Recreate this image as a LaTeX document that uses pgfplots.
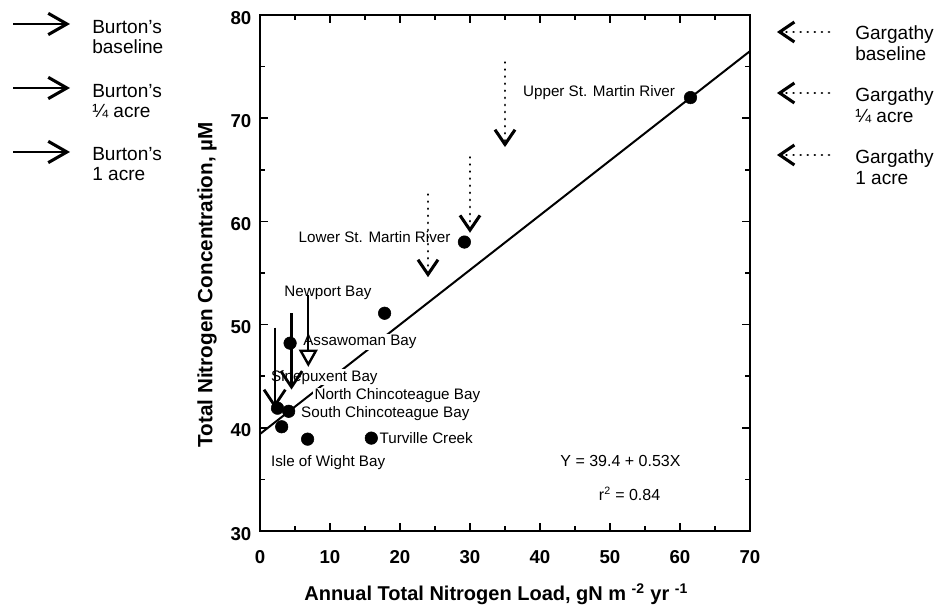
\documentclass[border=0pt]{standalone}
\usepackage{fontspec}
\setmainfont{Liberation Sans}
\usepackage{pgfplots}
\pgfplotsset{compat=1.18}
\usetikzlibrary{arrows.meta}

\tikzset{
  burton/.style={line width=1.7pt, black,
    -{Straight Barb[length=12pt, width=16pt, line width=2.1pt]}},
  gargathy/.style={line width=2.1pt, black, line cap=round,
    dash pattern=on 0.01pt off 5.3pt,
    -{Straight Barb[length=11pt, width=15pt, line width=2.3pt]}},
  lbl/.style={font=\fontsize{11.4}{13}\selectfont, inner sep=0.8pt, fill=white},
  leg/.style={font=\fontsize{14.3}{15.5}\selectfont, align=left, anchor=west, inner sep=0pt},
}

\begin{document}
\begin{tikzpicture}
\useasboundingbox (0,0) rectangle (705pt,-456.75pt);

\begin{axis}[
  at={(195pt,-398.25pt)}, anchor=south west,
  width=367.5pt, height=387pt, scale only axis,
  xmin=0, xmax=70, ymin=30, ymax=80,
  xtick={0,10,...,70}, ytick={30,40,...,80},
  minor x tick num=1, minor y tick num=1,
  tick align=inside,
  major tick length=6pt, minor tick length=3.5pt,
  every tick/.style={black, line width=1.1pt},
  axis line style={line width=1.5pt},
  /pgf/number format/assume math mode=true,
  tick label style={font=\fontsize{14}{16}\selectfont\bfseries},
  xticklabel style={yshift=-11pt},
  yticklabel style={xshift=-3pt, yshift=-2pt},
  xlabel={Annual Total Nitrogen Load, gN m \textsuperscript{-2} yr \textsuperscript{-1}},
  ylabel={Total Nitrogen Concentration, µM},
  xlabel style={font=\fontsize{15}{17}\selectfont\bfseries,
    at={(axis description cs:0.482,-0.122)}, anchor=center},
  ylabel style={font=\fontsize{15.5}{17}\selectfont\bfseries,
    at={(axis description cs:-0.108,0.477)}, anchor=center, rotate=0},
  clip=false,
]

% least-squares fit, Y = 39.4 + 0.53X
\addplot[black, line width=1.5pt] coordinates {(0,39.4) (70,76.5)};

% site names
\node[lbl, anchor=west] at (axis cs:37.4,72.5) {Upper St. Martin River};
\node[lbl, anchor=east] at (axis cs:27.4,58.5) {Lower St. Martin River};
\node[lbl, anchor=west] at (axis cs:3.3,53.1) {Newport Bay};
\node[lbl, anchor=west] at (axis cs:6.0,48.3) {Assawoman Bay};
\node[lbl, anchor=west] at (axis cs:1.4,44.9) {Sinepuxent Bay};
\node[lbl, anchor=west] at (axis cs:7.6,43.1) {North Chincoteague Bay};
\node[lbl, anchor=west] at (axis cs:5.7,41.4) {South Chincoteague Bay};
\node[lbl, anchor=west] at (axis cs:16.9,39.0) {Turville Creek};
\node[lbl, anchor=west] at (axis cs:1.4,36.6) {Isle of Wight Bay};

% regression statistics
\node[font=\fontsize{12}{14}\selectfont] at (axis cs:51.5,36.8) {Y = 39.4 + 0.53X};
\node[font=\fontsize{12}{14}\selectfont] at (axis cs:52.8,33.6) {r\textsuperscript{2} = 0.84};

% Burton's scenarios
\addplot[burton] coordinates {(2.1,49.7) (2.1,41.9)};
\addplot[burton] coordinates {(4.5,51.1) (4.5,43.7)};
\addplot[line width=1.7pt, black,
  -{Triangle[open, length=13pt, width=14pt, line width=1.8pt]}]
  coordinates {(6.9,52.9) (6.9,45.9)};

% Gargathy scenarios
\addplot[gargathy] coordinates {(24.0,62.6) (24.0,54.6)};
\addplot[gargathy] coordinates {(30.0,66.2) (30.0,58.9)};
\addplot[gargathy] coordinates {(35.0,75.4) (35.0,67.2)};

% observed bays
\addplot[only marks, mark=*, mark size=4.7pt, black] coordinates {
  (61.5,72.0) (29.2,58.0) (17.8,51.1) (4.3,48.2) (2.5,41.9)
  (4.1,41.6) (3.1,40.1) (6.8,38.9) (15.9,39.0)
};
\end{axis}

% key for the arrow styles
\begin{scope}[x=0.75pt, y=-0.75pt]
  \draw[line width=1.8pt, -{Straight Barb[length=14pt, width=16pt, line width=2.3pt]}] (13,24) -- (70,24);
  \draw[line width=1.8pt, -{Straight Barb[length=14pt, width=16pt, line width=2.3pt]}] (13,88) -- (70,88);
  \draw[line width=1.8pt, -{Straight Barb[length=14pt, width=16pt, line width=2.3pt]}] (13,152) -- (70,152);
  \node[leg] at (92,37) {Burton's\\baseline};
  \node[leg] at (92,101) {Burton's\\¼ acre};
  \node[leg] at (92,164) {Burton's\\1 acre};

  \draw[gargathy] (829,32) -- (777,32);
  \draw[gargathy] (829,93) -- (777,93);
  \draw[gargathy] (829,155) -- (777,155);
  \node[leg] at (855,43) {Gargathy\\baseline};
  \node[leg] at (855,105) {Gargathy\\¼ acre};
  \node[leg] at (855,167) {Gargathy\\1 acre};
\end{scope}
\end{tikzpicture}
\end{document}
